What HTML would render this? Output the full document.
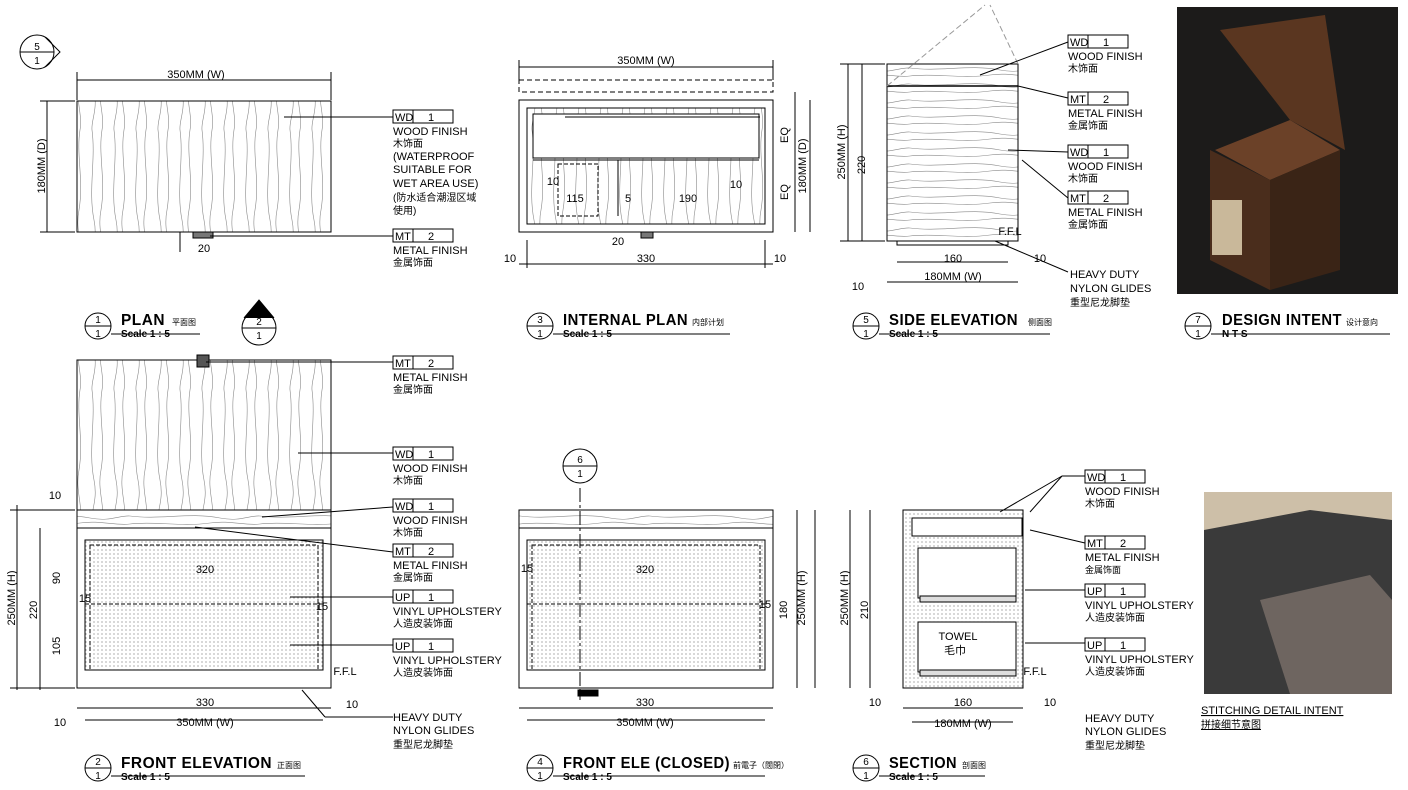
<!DOCTYPE html>
<html><head><meta charset="utf-8"><style>
body{margin:0;background:#fff;}
svg{display:block;font-family:"Liberation Sans","Noto Sans CJK SC",sans-serif;}
.t{font-size:11px;fill:#000}
.c{font-size:10px;fill:#000}
.ttl{font-size:16px;font-weight:bold;letter-spacing:0.5px}
.sc{font-size:10px;font-weight:bold}
</style></head><body>
<svg width="1408" height="790" viewBox="0 0 1408 790" xmlns="http://www.w3.org/2000/svg">
<defs>
<pattern id="gv" width="22" height="130" patternUnits="userSpaceOnUse">
<path d="M4 0 C8 30 0 60 6 90 C10 110 3 120 4 130 M14 0 C10 25 18 50 13 80 C9 100 17 115 14 130" fill="none" stroke="#888" stroke-width="0.6"/>
</pattern>
<pattern id="gh" width="130" height="16" patternUnits="userSpaceOnUse">
<path d="M0 4 C30 8 60 0 90 6 C110 10 120 3 130 4 M0 12 C25 9 50 15 80 11 C100 8 115 14 130 12" fill="none" stroke="#888" stroke-width="0.6"/>
</pattern>
<pattern id="dt" width="4" height="4" patternUnits="userSpaceOnUse"><circle cx="2" cy="2" r="0.6" fill="#777"/></pattern>
</defs>
<g stroke="#000" fill="none" stroke-width="1">
<rect x="77" y="101" width="254" height="131" fill="url(#gv)"/>
<line x1="77" y1="80" x2="331" y2="80"/><line x1="77" y1="72" x2="77" y2="100"/><line x1="331" y1="72" x2="331" y2="100"/>
<line x1="47" y1="101" x2="47" y2="232"/><line x1="40" y1="101" x2="75" y2="101"/><line x1="40" y1="232" x2="75" y2="232"/>
<rect x="193" y="232" width="20" height="6" fill="#777"/>
<line x1="180" y1="232" x2="180" y2="252"/>
<line x1="284" y1="117" x2="393" y2="117"/><line x1="210" y1="236" x2="393" y2="236"/>
<rect x="519" y="80" width="254" height="12" stroke-dasharray="5 3"/>
<rect x="519" y="100" width="254" height="132"/>
<rect x="527" y="108" width="238" height="116" fill="url(#gv)"/>
<rect x="533" y="114" width="226" height="44" fill="#fff"/>
<line x1="533" y1="160" x2="759" y2="160"/>
<rect x="558" y="164" width="40" height="52" stroke-dasharray="4 2"/>
<line x1="618" y1="160" x2="618" y2="216"/>
<line x1="519" y1="67" x2="773" y2="67"/><line x1="519" y1="60" x2="519" y2="80"/><line x1="773" y1="60" x2="773" y2="80"/>
<line x1="519" y1="264" x2="773" y2="264"/><line x1="527" y1="240" x2="527" y2="268"/><line x1="765" y1="240" x2="765" y2="268"/>
<line x1="795" y1="92" x2="795" y2="232"/><line x1="810" y1="100" x2="810" y2="232"/>
<line x1="565" y1="117" x2="760" y2="117"/>
<rect x="641" y="232" width="12" height="6" fill="#777"/>
<rect x="887" y="64" width="131" height="177" fill="url(#gh)"/>
<line x1="887" y1="86" x2="1018" y2="86" stroke-width="1.5"/>
<line x1="887" y1="86" x2="985" y2="5" stroke="#999" stroke-dasharray="6 3"/>
<line x1="1018" y1="64" x2="990" y2="5" stroke="#999" stroke-dasharray="6 3"/>
<rect x="897" y="241" width="111" height="4"/>
<line x1="862" y1="64" x2="862" y2="241"/><line x1="848" y1="241" x2="848" y2="64"/>
<line x1="840" y1="64" x2="885" y2="64"/><line x1="840" y1="241" x2="885" y2="241"/>
<line x1="887" y1="282" x2="1018" y2="282"/><line x1="897" y1="262" x2="1008" y2="262"/>
<line x1="980" y1="75" x2="1068" y2="42"/><line x1="1018" y1="86" x2="1068" y2="98"/>
<line x1="1008" y1="150" x2="1068" y2="152"/><line x1="1022" y1="160" x2="1068" y2="198"/>
<line x1="995" y1="241" x2="1068" y2="272"/>
<rect x="1177" y="7" width="221" height="287" fill="#1c1b1a" stroke="none"/>
<path d="M1215 150 L1290 120 L1340 150 L1270 180 Z" fill="#6b4128" stroke="none"/>
<path d="M1220 30 L1325 15 L1345 150 L1290 120 Z" fill="#5a3620" stroke="none"/>
<path d="M1210 150 L1270 180 L1270 290 L1210 260 Z" fill="#4a2d1c" stroke="none"/>
<path d="M1270 180 L1340 150 L1340 270 L1270 290 Z" fill="#3a2416" stroke="none"/>
<rect x="1212" y="200" width="30" height="55" fill="#c9b89a" stroke="none"/>
<rect x="77" y="360" width="254" height="150" fill="url(#gv)"/>
<rect x="197" y="355" width="12" height="12" fill="#555"/>
<rect x="77" y="510" width="254" height="178"/>
<rect x="77" y="510" width="254" height="18" fill="url(#gh)"/>
<rect x="85" y="540" width="238" height="130" fill="url(#dt)"/>
<rect x="90" y="545" width="228" height="125" stroke-dasharray="4 2"/>
<line x1="85" y1="604" x2="323" y2="604" stroke-dasharray="4 2"/>
<line x1="86" y1="688" x2="322" y2="688"/>
<line x1="77" y1="708" x2="331" y2="708"/><line x1="85" y1="720" x2="323" y2="720"/>
<line x1="17" y1="505" x2="17" y2="690"/><line x1="40" y1="528" x2="40" y2="690"/>
<line x1="10" y1="688" x2="75" y2="688"/><line x1="10" y1="510" x2="75" y2="510"/>
<line x1="206" y1="362" x2="393" y2="362"/><line x1="298" y1="453" x2="393" y2="453"/>
<line x1="262" y1="517" x2="393" y2="507"/><line x1="195" y1="527" x2="393" y2="552"/>
<line x1="290" y1="597" x2="393" y2="597"/><line x1="290" y1="645" x2="393" y2="645"/>
<line x1="302" y1="690" x2="325" y2="717"/><line x1="325" y1="717" x2="393" y2="717"/>
<rect x="519" y="510" width="254" height="178"/>
<rect x="519" y="510" width="254" height="18" fill="url(#gh)"/>
<rect x="527" y="540" width="238" height="130" fill="url(#dt)"/>
<rect x="532" y="545" width="228" height="125" stroke-dasharray="4 2"/>
<line x1="527" y1="604" x2="765" y2="604" stroke-dasharray="4 2"/>
<line x1="580" y1="488" x2="580" y2="700" stroke-dasharray="14 3 3 3"/>
<rect x="578" y="690" width="20" height="6" fill="#000"/>
<line x1="519" y1="708" x2="773" y2="708"/><line x1="527" y1="720" x2="765" y2="720"/>
<line x1="797" y1="510" x2="797" y2="688"/><line x1="815" y1="510" x2="815" y2="688"/>
<rect x="903" y="510" width="120" height="178" fill="url(#dt)"/>
<rect x="912" y="518" width="110" height="18" fill="#fff"/>
<rect x="918" y="548" width="98" height="50" fill="#fff"/>
<rect x="918" y="622" width="98" height="50" fill="#fff"/>
<rect x="920" y="596" width="96" height="6" fill="#ddd"/>
<rect x="920" y="670" width="96" height="6" fill="#ddd"/>
<line x1="870" y1="510" x2="870" y2="688"/><line x1="850" y1="510" x2="850" y2="688"/>
<line x1="903" y1="708" x2="1023" y2="708"/><line x1="912" y1="722" x2="1013" y2="722"/>
<line x1="1000" y1="512" x2="1062" y2="476"/><line x1="1030" y1="512" x2="1062" y2="476"/><line x1="1062" y1="476" x2="1085" y2="476"/>
<line x1="1030" y1="530" x2="1085" y2="543"/><line x1="1025" y1="590" x2="1085" y2="590"/><line x1="1025" y1="643" x2="1085" y2="643"/>
<rect x="1204" y="492" width="188" height="202" fill="#3a3a3a" stroke="none"/>
<path d="M1204 492 L1392 492 L1392 520 L1310 510 L1204 530Z" fill="#cdbfa8" stroke="none"/>
<path d="M1260 600 L1370 575 L1392 600 L1392 694 L1290 694Z" fill="#6e6560" stroke="none"/>
<circle cx="37" cy="52" r="17"/><line x1="20" y1="52" x2="54" y2="52"/><path d="M45 37 L60 52 L45 67"/>
<circle cx="259" cy="328" r="17"/><line x1="242" y1="328" x2="276" y2="328"/><path d="M244 318 L259 300 L274 318" fill="#000"/>
<circle cx="580" cy="466" r="17"/><line x1="563" y1="466" x2="597" y2="466"/>
</g>
<g stroke="#000" fill="none">
<circle cx="98" cy="326" r="13"/><line x1="85" y1="326" x2="111" y2="326"/><line x1="111" y1="334" x2="200" y2="334"/>
<circle cx="540" cy="326" r="13"/><line x1="527" y1="326" x2="553" y2="326"/><line x1="553" y1="334" x2="730" y2="334"/>
<circle cx="866" cy="326" r="13"/><line x1="853" y1="326" x2="879" y2="326"/><line x1="879" y1="334" x2="1050" y2="334"/>
<circle cx="1198" cy="326" r="13"/><line x1="1185" y1="326" x2="1211" y2="326"/><line x1="1211" y1="334" x2="1390" y2="334"/>
<circle cx="98" cy="768" r="13"/><line x1="85" y1="768" x2="111" y2="768"/><line x1="111" y1="776" x2="305" y2="776"/>
<circle cx="540" cy="768" r="13"/><line x1="527" y1="768" x2="553" y2="768"/><line x1="553" y1="776" x2="765" y2="776"/>
<circle cx="866" cy="768" r="13"/><line x1="853" y1="768" x2="879" y2="768"/><line x1="879" y1="776" x2="985" y2="776"/>
</g>
<g class="c" text-anchor="middle">
<text x="98" y="323">1</text><text x="98" y="337">1</text>
<text x="540" y="323">3</text><text x="540" y="337">1</text>
<text x="866" y="323">5</text><text x="866" y="337">1</text>
<text x="1198" y="323">7</text><text x="1198" y="337">1</text>
<text x="98" y="765">2</text><text x="98" y="779">1</text>
<text x="540" y="765">4</text><text x="540" y="779">1</text>
<text x="866" y="765">6</text><text x="866" y="779">1</text>
<text x="37" y="50">5</text><text x="37" y="64">1</text>
<text x="259" y="325">2</text><text x="259" y="339">1</text>
<text x="580" y="463">6</text><text x="580" y="477">1</text>
</g>
<g>
<text x="121" y="325" class="ttl" textLength="44" lengthAdjust="spacingAndGlyphs">PLAN</text><text x="172" y="325" font-size="8">平面图</text><text x="121" y="337" class="sc">Scale 1 : 5</text>
<text x="563" y="325" class="ttl" textLength="125" lengthAdjust="spacingAndGlyphs">INTERNAL PLAN</text><text x="692" y="325" font-size="8">内部计划</text><text x="563" y="337" class="sc">Scale 1 : 5</text>
<text x="889" y="325" class="ttl" textLength="129" lengthAdjust="spacingAndGlyphs">SIDE ELEVATION</text><text x="1028" y="325" font-size="8">侧面图</text><text x="889" y="337" class="sc">Scale 1 : 5</text>
<text x="1222" y="325" class="ttl" textLength="120" lengthAdjust="spacingAndGlyphs">DESIGN INTENT</text><text x="1346" y="325" font-size="8">设计意向</text><text x="1222" y="337" class="sc">N T S</text>
<text x="121" y="768" class="ttl" textLength="151" lengthAdjust="spacingAndGlyphs">FRONT ELEVATION</text><text x="277" y="768" font-size="8">正面图</text><text x="121" y="780" class="sc">Scale 1 : 5</text>
<text x="563" y="768" class="ttl" textLength="167" lengthAdjust="spacingAndGlyphs">FRONT ELE (CLOSED)</text><text x="733" y="768" font-size="8">前電子（闊閉）</text><text x="563" y="780" class="sc">Scale 1 : 5</text>
<text x="889" y="768" class="ttl" textLength="68" lengthAdjust="spacingAndGlyphs">SECTION</text><text x="962" y="768" font-size="8">剖面图</text><text x="889" y="780" class="sc">Scale 1 : 5</text>
</g>
<g class="t" text-anchor="middle">
<text x="196" y="78">350MM (W)</text>
<text x="646" y="64">350MM (W)</text>
<text x="646" y="262">330</text><text x="510" y="262">10</text><text x="780" y="262">10</text>
<text x="575" y="202">115</text><text x="688" y="202">190</text><text x="553" y="185">10</text><text x="736" y="188">10</text><text x="628" y="202">5</text>
<text x="618" y="245">20</text><text x="204" y="252">20</text>
<text x="953" y="262">160</text><text x="953" y="280">180MM (W)</text><text x="1040" y="262">10</text><text x="858" y="290">10</text>
<text x="1010" y="235">F.F.L</text>
<text x="205" y="573">320</text><text x="205" y="706">330</text><text x="205" y="726">350MM (W)</text>
<text x="55" y="499">10</text><text x="352" y="708">10</text><text x="60" y="726">10</text>
<text x="645" y="573">320</text><text x="645" y="706">330</text><text x="645" y="726">350MM (W)</text>
<text x="527" y="572">15</text><text x="765" y="608">15</text><text x="322" y="610">15</text><text x="85" y="602">15</text>
<text x="963" y="706">160</text><text x="963" y="727">180MM (W)</text><text x="875" y="706">10</text><text x="1050" y="706">10</text>
<text x="345" y="675">F.F.L</text><text x="1035" y="675">F.F.L</text>
<text x="958" y="640">TOWEL</text><text x="955" y="654">毛巾</text>
</g>
<g class="t" text-anchor="middle">
<text transform="translate(45,166) rotate(-90)">180MM (D)</text>
<text transform="translate(806,166) rotate(-90)">180MM (D)</text>
<text transform="translate(845,152) rotate(-90)">250MM (H)</text>
<text transform="translate(865,165) rotate(-90)">220</text>
<text transform="translate(15,598) rotate(-90)">250MM (H)</text>
<text transform="translate(37,610) rotate(-90)">220</text>
<text transform="translate(60,578) rotate(-90)">90</text>
<text transform="translate(60,646) rotate(-90)">105</text>
<text transform="translate(805,598) rotate(-90)">250MM (H)</text>
<text transform="translate(787,610) rotate(-90)">180</text>
<text transform="translate(848,598) rotate(-90)">250MM (H)</text>
<text transform="translate(868,610) rotate(-90)">210</text>
<text transform="translate(788,135) rotate(-90)">EQ</text>
<text transform="translate(788,192) rotate(-90)">EQ</text>
</g>
<g font-size="11" fill="#000">
<g transform="translate(393,110)"><rect width="60" height="13" fill="none" stroke="#000"/><line x1="20" y1="0" x2="20" y2="13" stroke="#000"/><text x="2" y="11">WD</text><text x="35" y="11">1</text>
<text y="25">WOOD FINISH</text><text y="37" font-size="10">木饰面</text><text y="50">(WATERPROOF</text><text y="63">SUITABLE FOR</text><text y="77">WET AREA USE)</text><text y="91" font-size="10">(防水适合潮湿区域</text><text y="104" font-size="10">使用)</text></g>
<g transform="translate(393,229)"><rect width="60" height="13" fill="none" stroke="#000"/><line x1="20" y1="0" x2="20" y2="13" stroke="#000"/><text x="2" y="11">MT</text><text x="35" y="11">2</text><text y="25">METAL FINISH</text><text y="37" font-size="10">金属饰面</text></g>
<g transform="translate(1068,35)"><rect width="60" height="13" fill="none" stroke="#000"/><line x1="20" y1="0" x2="20" y2="13" stroke="#000"/><text x="2" y="11">WD</text><text x="35" y="11">1</text><text y="25">WOOD FINISH</text><text y="37" font-size="10">木饰面</text></g>
<g transform="translate(1068,92)"><rect width="60" height="13" fill="none" stroke="#000"/><line x1="20" y1="0" x2="20" y2="13" stroke="#000"/><text x="2" y="11">MT</text><text x="35" y="11">2</text><text y="25">METAL FINISH</text><text y="37" font-size="10">金属饰面</text></g>
<g transform="translate(1068,145)"><rect width="60" height="13" fill="none" stroke="#000"/><line x1="20" y1="0" x2="20" y2="13" stroke="#000"/><text x="2" y="11">WD</text><text x="35" y="11">1</text><text y="25">WOOD FINISH</text><text y="37" font-size="10">木饰面</text></g>
<g transform="translate(1068,191)"><rect width="60" height="13" fill="none" stroke="#000"/><line x1="20" y1="0" x2="20" y2="13" stroke="#000"/><text x="2" y="11">MT</text><text x="35" y="11">2</text><text y="25">METAL FINISH</text><text y="37" font-size="10">金属饰面</text></g>
<text x="1070" y="278">HEAVY DUTY</text><text x="1070" y="292">NYLON GLIDES</text><text x="1070" y="306" font-size="10">重型尼龙脚垫</text>
<g transform="translate(393,356)"><rect width="60" height="13" fill="none" stroke="#000"/><line x1="20" y1="0" x2="20" y2="13" stroke="#000"/><text x="2" y="11">MT</text><text x="35" y="11">2</text><text y="25">METAL FINISH</text><text y="37" font-size="10">金属饰面</text></g>
<g transform="translate(393,447)"><rect width="60" height="13" fill="none" stroke="#000"/><line x1="20" y1="0" x2="20" y2="13" stroke="#000"/><text x="2" y="11">WD</text><text x="35" y="11">1</text><text y="25">WOOD FINISH</text><text y="37" font-size="10">木饰面</text></g>
<g transform="translate(393,499)"><rect width="60" height="13" fill="none" stroke="#000"/><line x1="20" y1="0" x2="20" y2="13" stroke="#000"/><text x="2" y="11">WD</text><text x="35" y="11">1</text><text y="25">WOOD FINISH</text><text y="37" font-size="10">木饰面</text></g>
<g transform="translate(393,544)"><rect width="60" height="13" fill="none" stroke="#000"/><line x1="20" y1="0" x2="20" y2="13" stroke="#000"/><text x="2" y="11">MT</text><text x="35" y="11">2</text><text y="25">METAL FINISH</text><text y="37" font-size="10">金属饰面</text></g>
<g transform="translate(393,590)"><rect width="60" height="13" fill="none" stroke="#000"/><line x1="20" y1="0" x2="20" y2="13" stroke="#000"/><text x="2" y="11">UP</text><text x="35" y="11">1</text><text y="25">VINYL UPHOLSTERY</text><text y="37" font-size="10">人造皮装饰面</text></g>
<g transform="translate(393,639)"><rect width="60" height="13" fill="none" stroke="#000"/><line x1="20" y1="0" x2="20" y2="13" stroke="#000"/><text x="2" y="11">UP</text><text x="35" y="11">1</text><text y="25">VINYL UPHOLSTERY</text><text y="37" font-size="10">人造皮装饰面</text></g>
<text x="393" y="721">HEAVY DUTY</text><text x="393" y="734">NYLON GLIDES</text><text x="393" y="748" font-size="10">重型尼龙脚垫</text>
<g transform="translate(1085,470)"><rect width="60" height="13" fill="none" stroke="#000"/><line x1="20" y1="0" x2="20" y2="13" stroke="#000"/><text x="2" y="11">WD</text><text x="35" y="11">1</text><text y="25">WOOD FINISH</text><text y="37" font-size="10">木饰面</text></g>
<g transform="translate(1085,536)"><rect width="60" height="13" fill="none" stroke="#000"/><line x1="20" y1="0" x2="20" y2="13" stroke="#000"/><text x="2" y="11">MT</text><text x="35" y="11">2</text><text y="25">METAL FINISH</text><text y="37" font-size="9">金属饰面</text></g>
<g transform="translate(1085,584)"><rect width="60" height="13" fill="none" stroke="#000"/><line x1="20" y1="0" x2="20" y2="13" stroke="#000"/><text x="2" y="11">UP</text><text x="35" y="11">1</text><text y="25">VINYL UPHOLSTERY</text><text y="37" font-size="10">人造皮装饰面</text></g>
<g transform="translate(1085,638)"><rect width="60" height="13" fill="none" stroke="#000"/><line x1="20" y1="0" x2="20" y2="13" stroke="#000"/><text x="2" y="11">UP</text><text x="35" y="11">1</text><text y="25">VINYL UPHOLSTERY</text><text y="37" font-size="10">人造皮装饰面</text></g>
<text x="1085" y="722">HEAVY DUTY</text><text x="1085" y="735">NYLON GLIDES</text><text x="1085" y="749" font-size="10">重型尼龙脚垫</text>
<text x="1201" y="714" text-decoration="underline">STITCHING DETAIL INTENT</text><text x="1201" y="728" font-size="10" text-decoration="underline">拼接细节意图</text>
</g>
</svg>
</body></html>
